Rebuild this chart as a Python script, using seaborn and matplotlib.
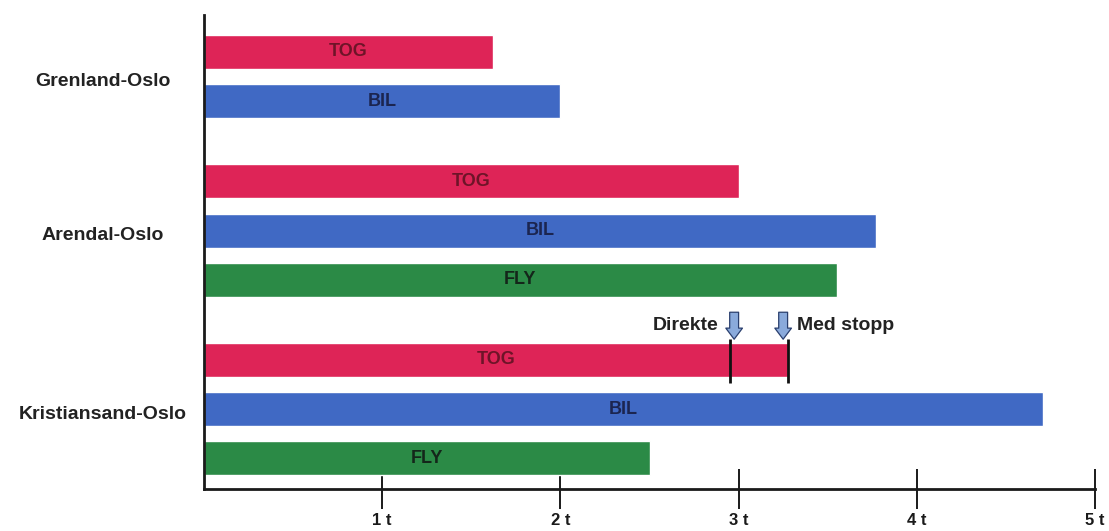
import numpy as np
import pandas as pd
import matplotlib
matplotlib.use("Agg")
import matplotlib.pyplot as plt
import seaborn as sns

# ---- data ----
routes = ["Grenland-Oslo", "Arendal-Oslo", "Kristiansand-Oslo"]
bar_routes = ["Grenland-Oslo", "Grenland-Oslo",
              "Arendal-Oslo", "Arendal-Oslo", "Arendal-Oslo",
              "Kristiansand-Oslo", "Kristiansand-Oslo", "Kristiansand-Oslo"]
bar_modes = ["TOG", "BIL", "TOG", "BIL", "FLY", "TOG", "BIL", "FLY"]
bar_hours = [1.62, 2.00, 3.00, 3.77, 3.55, 3.28, 4.71, 2.50]
kris_tog_direkte = 2.95
kris_tog_med_stopp = 3.28
tick_values = [1, 2, 3, 4, 5]
tick_labels = ["1 t", "2 t", "3 t", "4 t", "5 t"]

# ---- layout / style ----
bar_pos = [0.0, 1.0, 2.62, 3.62, 4.62, 6.24, 7.24, 8.24]
palette = {"TOG": "#DE2457", "BIL": "#4069C4", "FLY": "#2B8A46"}
text_colors = {"TOG": "#6E1428", "BIL": "#1B2550", "FLY": "#14261A"}

sns.set_style("white")
plt.rcParams["font.family"] = ["Liberation Sans", "DejaVu Sans"]

W, H = 1109, 531
fig = plt.figure(figsize=(W / 100, H / 100), dpi=100)
ax = fig.add_axes([204 / W, 1 - 489 / H, 891 / W, (489 - 15) / H])

df = pd.DataFrame({"route": bar_routes, "mode": bar_modes,
                   "hours": bar_hours, "pos": bar_pos})

sns.barplot(data=df, x="hours", y="pos", hue="mode", orient="h",
            native_scale=True, dodge=False, palette=palette, width=0.69,
            saturation=1, legend=False, errorbar=None, ax=ax)

ax.set_xlim(0, 5)
ax.set_ylim(8.86, -0.75)
ax.set_xlabel("")
ax.set_ylabel("")

for s in ["top", "right"]:
    ax.spines[s].set_visible(False)
for s in ["left", "bottom"]:
    ax.spines[s].set_color("#1a1a1a")
    ax.spines[s].set_linewidth(2)

ax.set_xticks(tick_values)
ax.set_xticklabels(tick_labels, fontweight="bold", fontsize=12, color="#1a1a1a")
ax.tick_params(axis="x", bottom=True, direction="inout", length=29, width=1.4,
               color="#1a1a1a", pad=3)

centers = [np.mean([p for p, r in zip(bar_pos, bar_routes) if r == rt]) + 0.06
           for rt in routes]
ax.set_yticks(centers)
ax.set_yticklabels(routes, fontweight="bold", fontsize=14, color="#222222")
ax.tick_params(axis="y", left=False, length=0, pad=73)
for lab in ax.get_yticklabels():
    lab.set_horizontalalignment("center")

# bar labels
for h, p, m in zip(bar_hours, bar_pos, bar_modes):
    ax.text(h / 2, p, m, ha="center", va="center", fontsize=13,
            fontweight="bold", color=text_colors[m])

# Kristiansand TOG: direct vs with stops
kp = bar_pos[5]
ax.vlines([kris_tog_direkte, kris_tog_med_stopp], kp - 0.42, kp + 0.47,
          colors="#111111", linewidth=2)
arrow_style = "simple,head_length=0.5,head_width=0.75,tail_width=0.4"
for xv, dx in [(kris_tog_direkte, 0.025), (kris_tog_med_stopp, -0.03)]:
    ax.annotate("", xy=(xv + dx, kp - 0.36), xytext=(xv + dx, kp - 1.02),
                arrowprops=dict(arrowstyle=arrow_style, mutation_scale=16,
                                fc="#8AAADB", ec="#2A3F6E", lw=0.9))
ax.text(kris_tog_direkte - 0.06, kp - 0.70, "Direkte", ha="right",
        va="center", fontsize=14, fontweight="bold", color="#222222")
ax.text(kris_tog_med_stopp + 0.05, kp - 0.70, "Med stopp", ha="left",
        va="center", fontsize=14, fontweight="bold", color="#222222")

fig.savefig("out.png", dpi=100)
